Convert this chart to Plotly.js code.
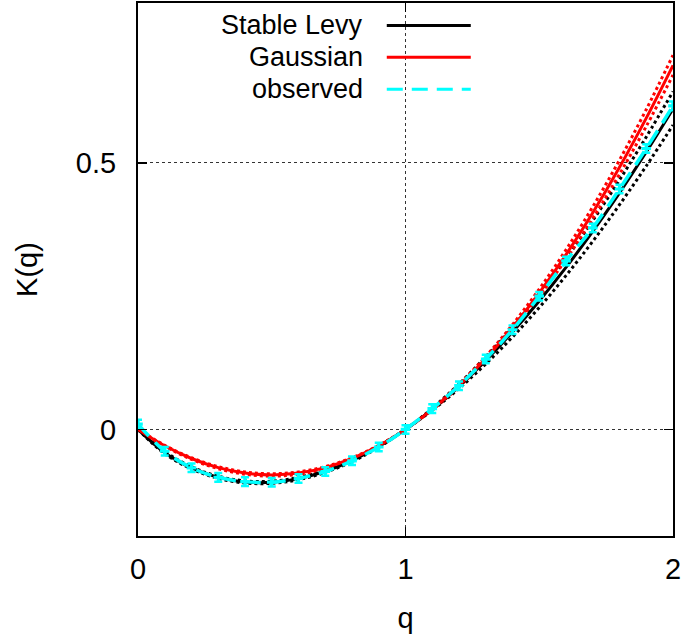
<!DOCTYPE html>
<html>
<head>
<meta charset="utf-8">
<script src="https://cdn.plot.ly/plotly-3.0.1.min.js"></script>
<style>html,body{margin:0;padding:0;background:#fff;}#chart{width:685px;height:634px;}</style>
</head>
<body>
<div id="chart"></div>
<script>
// q grid
const q = [0,0.1,0.2,0.3,0.4,0.5,0.6,0.7,0.8,0.9,1.0,1.1,1.2,1.3,1.4,1.5,1.6,1.7,1.8,1.9,2.0];

// Stable Levy fit (solid) and its band (dotted)
const levy      = [0,-0.0437,-0.0722,-0.0900,-0.0986,-0.0992,-0.0923,-0.0786,-0.0584,-0.0321,0,0.0377,0.0809,0.1292,0.1826,0.2409,0.3039,0.3715,0.4438,0.5204,0.6013];
const levyUpper = [0,-0.0417,-0.0702,-0.0880,-0.0966,-0.0972,-0.0903,-0.0766,-0.0564,-0.0306,0,0.0398,0.0853,0.1362,0.1925,0.2540,0.3204,0.3918,0.4680,0.5487,0.6340];
const levyLower = [0,-0.0457,-0.0742,-0.0920,-0.1006,-0.1012,-0.0943,-0.0806,-0.0604,-0.0336,0,0.0358,0.0768,0.1227,0.1734,0.2287,0.2886,0.3528,0.4215,0.4942,0.5710];

// Gaussian fit (solid) and its band (dotted)
const gauss      = [0,-0.0307,-0.0546,-0.0717,-0.0820,-0.0854,-0.0820,-0.0717,-0.0546,-0.0307,0,0.0376,0.0820,0.1332,0.1912,0.2561,0.3278,0.4064,0.4918,0.5840,0.6830];
const gaussUpper = [0,-0.0316,-0.0562,-0.0737,-0.0842,-0.0878,-0.0842,-0.0737,-0.0562,-0.0316,0,0.0386,0.0842,0.1369,0.1966,0.2633,0.3370,0.4177,0.5054,0.6002,0.7020];
const gaussLower = [0,-0.0299,-0.0532,-0.0698,-0.0798,-0.0831,-0.0798,-0.0698,-0.0532,-0.0299,0,0.0366,0.0798,0.1297,0.1862,0.2494,0.3192,0.3957,0.4788,0.5686,0.6650];

// observed
const observed    = [0.010,-0.041,-0.072,-0.090,-0.098,-0.099,-0.092,-0.079,-0.059,-0.033,0.000,0.039,0.082,0.132,0.187,0.250,0.316,0.378,0.451,0.527,0.607];
const observedErr = [0.008,0.008,0.008,0.008,0.008,0.008,0.008,0.008,0.008,0.008,0.008,0.008,0.008,0.008,0.008,0.008,0.008,0.008,0.008,0.008,0.008];

const xTicks = [0,1,2];
const xTickText = ['0','1','2'];
const yTicks = [0,0.5];
const yTickText = ['0','0.5'];

const legendNames = ['Stable Levy','Gaussian','observed'];

const FONT = 'Liberation Sans, Arial, Helvetica, sans-serif';
const BLACK = '#000000', RED = '#ff0000', CYAN = '#00ffff';

function ln(y, color, dash, name) {
  return {x: q, y: y, type: 'scatter', mode: 'lines', name: name,
          line: {color: color, width: 3, dash: dash, shape: 'spline'},
          showlegend: false, hoverinfo: 'skip'};
}

const traces = [
  ln(levyUpper, BLACK, 'dot', 'levy upper'),
  ln(levyLower, BLACK, 'dot', 'levy lower'),
  ln(gaussUpper, RED, 'dot', 'gauss upper'),
  ln(gaussLower, RED, 'dot', 'gauss lower'),
  ln(levy, BLACK, 'solid', legendNames[0]),
  ln(gauss, RED, 'solid', legendNames[1]),
  {x: q, y: observed, type: 'scatter', mode: 'lines+markers', name: legendNames[2],
   line: {color: CYAN, width: 3.5, dash: '16px,9px', shape: 'spline'},
   marker: {symbol: 'cross', size: 8, color: CYAN},
   error_y: {type: 'data', array: observedErr, visible: true, color: CYAN, thickness: 2.5, width: 4},
   showlegend: false, hoverinfo: 'skip'}
];

// custom legend (text on left, sample on right as in the reference)
const legY = [0.958, 0.898, 0.838];
const legColors = [BLACK, RED, CYAN];
const legDash = ['solid', 'solid', '16px,9px'];
const annotations = legendNames.map((t, i) => ({
  xref: 'paper', yref: 'paper', x: 0.424, y: legY[i], xanchor: 'right', yanchor: 'middle',
  text: t, showarrow: false, font: {family: FONT, size: 27, color: '#000'}
}));
const shapes = legendNames.map((t, i) => ({
  type: 'line', xref: 'paper', yref: 'paper', x0: 0.465, x1: 0.622, y0: legY[i], y1: legY[i],
  line: {color: legColors[i], width: 3, dash: legDash[i]}
}));

const axisCommon = {
  showline: true, linecolor: '#000', linewidth: 2, mirror: 'allticks',
  ticks: 'inside', ticklen: 9, tickwidth: 1.5, tickcolor: '#000',
  showgrid: true, gridcolor: '#333', gridwidth: 1, griddash: 'dot',
  zeroline: false, tickfont: {family: FONT, size: 29, color: '#000'}
};

const layout = {
  width: 685, height: 634,
  margin: {l: 138, r: 12, t: 3, b: 98},
  paper_bgcolor: '#fff', plot_bgcolor: '#fff',
  showlegend: false,
  xaxis: Object.assign({}, axisCommon, {
    range: [0, 2], tickmode: 'array', tickvals: xTicks, ticktext: xTickText, ticklabelstandoff: 6,
    title: {text: 'q', font: {family: FONT, size: 29, color: '#000'}, standoff: 24}
  }),
  yaxis: Object.assign({}, axisCommon, {
    range: [-0.2, 0.8], tickmode: 'array', tickvals: yTicks, ticktext: yTickText, ticklabelstandoff: 14,
    title: {text: 'K(q)', font: {family: FONT, size: 29, color: '#000'}, standoff: 30}
  }),
  annotations: annotations,
  shapes: shapes
};

Plotly.newPlot('chart', traces, layout, {displayModeBar: false, staticPlot: true});
</script>
</body>
</html>
